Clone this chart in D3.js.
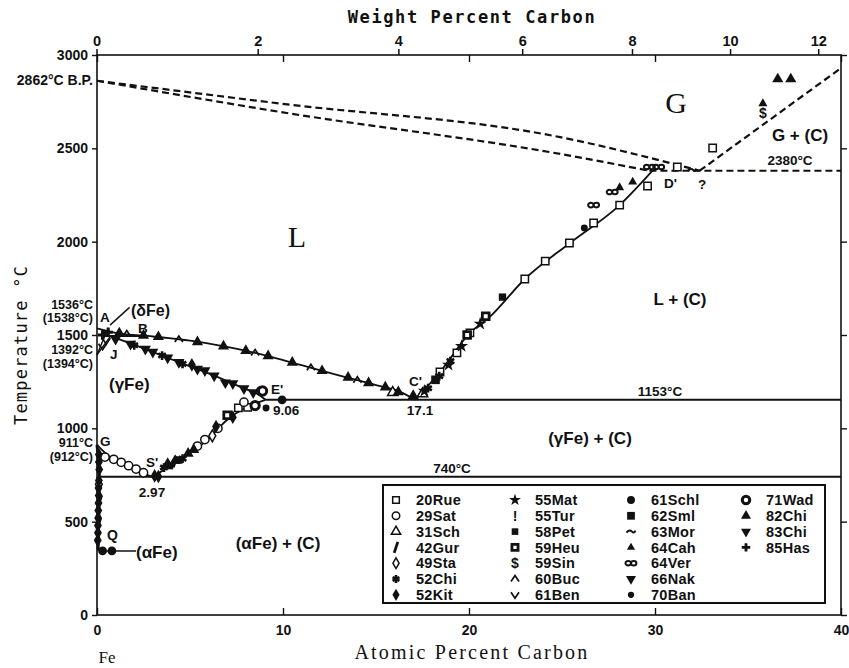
<!DOCTYPE html>
<html>
<head>
<meta charset="utf-8">
<script src="https://cdn.jsdelivr.net/npm/d3@7"></script>
<style>
  body { margin: 0; background: #fff; }
  svg { display: block; }
  text { fill: #111; }
</style>
</head>
<body>
<div id="chart"></div>
<script>
// phase boundaries, [atomic % C, temperature °C]
var liquidus = [[0,1536],[1,1512],[3,1492],[5,1470],[7,1436],[9,1392],[11,1338],[13,1284],[15,1232],[16.3,1195],[17.1,1153]];
var solidus = [[0.3,1510],[2.3,1436],[4.1,1366],[6.2,1286],[7.85,1216],[8.6,1185],[9.06,1153]];
var acm = [[2.97,740],[4.62,841],[5.91,937],[6.99,1045],[8.06,1114],[9.06,1153]];
var a3 = [[0,912],[0.7,847],[1.6,804],[2.3,767],[2.97,740]];
var alphaSolvus = [[0,912],[0.12,740],[0.1,560],[0.06,345]];
var graphiteLiq = [[17.1,1153],[18.44,1302],[20.05,1511],[21.13,1598],[23.0,1800],[25.43,1993],[28.1,2196],[30.0,2395]];
var dewLine = [[0,2862],[9.84,2740],[24.9,2560],[32.4,2380]];
var bubbleLine = [[0,2862],[9.84,2695],[24.9,2470],[29.7,2380]];
var gasGraphite = [[32.4,2380],[40,2930]];
var eutectic = [[9.06,1153],[40,1153]];
var eutectoid = [[0.12,740],[40,740]];
var line2380 = [[29.7,2380],[40,2380]];
var peritectic = [[0.42,1495],[2.4,1495]];
var deltaLines = [[[0,1394],[0.42,1495]],[[0,1394],[0.74,1495]]];

// measured points, one array per source
var rue20 = [[18.44,1302],[19.35,1404],[20.05,1511],[23.0,1800],[24.1,1896],[25.4,1993],[26.7,2100],[28.1,2196],[29.6,2298],[31.2,2400],[33.1,2502],[7.6,1110],[8.1,1112]];
var sat29 = [[0.43,846],[0.9,834],[1.3,818],[1.7,800],[2.1,782],[2.5,762],[5.4,905],[5.8,940],[6.5,1000],[7.9,1140],[8.8,1200]];
var sch31 = [[15.9,1192],[17.5,1185]];
var gur42 = [[0.1,490],[0.15,610],[4.2,820]];
var sta49 = [[0.1,700],[6.2,960]];
var chi52 = [[2.0,1445],[3.5,1390],[4.6,1345],[17.8,1215],[18.4,1280],[19.0,1360],[3.6,790],[4.6,838]];
var kit52 = [[0.1,860],[0.1,820],[0.12,780],[0.1,720],[0.08,680],[0.09,640],[0.08,600],[0.07,560],[0.06,520],[0.05,480],[0.05,440],[0.04,400],[6.4,1010],[7.3,1060],[3.1,745],[3.3,742],[5.1,1340]];
var mat55 = [[17.6,1200],[18.9,1340],[19.6,1440],[20.6,1560]];
var tur55 = [[0.08,650]];
var pet58 = [[21.8,1703],[3.9,800],[4.4,830]];
var heu59 = [[19.9,1500],[20.9,1600],[7.0,1070]];
var sin59 = [[35.8,2690]];
var buc60 = [[1.6,1505],[4.4,1476],[8.5,1404],[11.5,1325],[14.0,1258]];
var ben61 = [[0.5,1470],[0.3,1440]];
var schl61 = [[9.95,1153],[0.3,343],[0.8,343]];
var sml62 = [[18.2,1260]];
var mor63 = [[32.0,2384]];
var cah64 = [[28.8,2320],[28.1,2290],[35.8,2740]];
var ver64 = [[26.7,2196],[27.7,2266],[29.7,2400],[30.2,2400]];
var nak66 = [[5.8,1310],[6.9,1245],[2.6,1425]];
var ban70 = [[9.09,1109],[26.2,2073]];
var wad71 = [[8.9,1200],[8.5,1122]];
var chi82 = [[1.2,1510],[2.5,1497],[3.3,1490],[5.4,1463],[6.8,1440],[8.0,1416],[9.2,1388],[10.5,1353],[12.1,1308],[13.5,1272],[14.6,1243],[15.5,1220],[16.2,1195],[17.0,1175],[36.6,2871],[37.3,2871],[3.8,810],[4.2,826],[4.9,865],[5.2,885]];
var chi83 = [[1.0,1478],[1.8,1452],[3.0,1409],[3.8,1378],[4.4,1354],[5.4,1318],[6.3,1282],[7.3,1240],[7.9,1213],[8.4,1192]];
var has85 = [[0.3,1500],[0.6,1515]];

var weightTicks = [0, 2, 4, 6, 8, 10, 12];
var tempTicks = [0, 500, 1000, 1500, 2000, 2500, 3000];
var atomicTicks = [0, 10, 20, 30, 40];

var legendCols = [
  [["20Rue","sqOpen",rue20],["29Sat","circOpen",sat29],["31Sch","triOpen",sch31],["42Gur","slash",gur42],["49Sta","diaOpen",sta49],["52Chi","asterisk",chi52],["52Kit","diaFill",kit52]],
  [["55Mat","star",mat55],["55Tur","excl",tur55],["58Pet","sqFill",pet58],["59Heu","sqThick",heu59],["59Sin","dollar",sin59],["60Buc","caret",buc60],["61Ben","vee",ben61]],
  [["61Schl","circFill",schl61],["62Sml","sqBig",sml62],["63Mor","tilde",mor63],["64Cah","triSmall",cah64],["64Ver","infin",ver64],["66Nak","triDown",nak66],["70Ban","circSmall",ban70]],
  [["71Wad","circThick",wad71],["82Chi","triFill",chi82],["83Chi","triDown",chi83],["85Has","plus",has85]]
];

var W = 849, H = 668;
var svg = d3.select("#chart").append("svg").attr("width", W).attr("height", H);

var x = d3.scaleLinear().domain([0, 40]).range([97, 841]);
var y = d3.scaleLinear().domain([0, 3000]).range([615, 55]);

// weight % -> atomic %
function wtToAt(w) {
  var c = w / 12.011, fe = (100 - w) / 55.845;
  return 100 * c / (c + fe);
}

var numFont = "Liberation Sans, Arial, sans-serif";

// frame
svg.append("rect").attr("x", x(0)).attr("y", y(3000))
  .attr("width", x(40) - x(0)).attr("height", y(0) - y(3000))
  .attr("fill", "none").attr("stroke", "#111").attr("stroke-width", 1.6);

// bottom axis, atomic %
var bottom = svg.append("g").attr("transform", "translate(0," + y(0) + ")");
bottom.call(d3.axisBottom(x).tickValues(d3.range(0, 41, 1)).tickSize(-3).tickFormat(""));
bottom.call(d3.axisBottom(x).tickValues(atomicTicks).tickSize(-7).tickPadding(10).tickFormat(d3.format("d")));
bottom.select(".domain").remove();

// top axis: atomic minor ticks inside, weight % outside
var topIn = svg.append("g").attr("transform", "translate(0," + y(3000) + ")");
topIn.call(d3.axisTop(x).tickValues(d3.range(0, 41, 1)).tickSize(-3).tickFormat(""));
topIn.call(d3.axisTop(x).tickValues(atomicTicks).tickSize(-7).tickFormat(""));
topIn.select(".domain").remove();
var xw = function(w) { return x(wtToAt(w)); };
var topOut = svg.append("g");
weightTicks.forEach(function(w) {
  topOut.append("line").attr("x1", xw(w)).attr("x2", xw(w)).attr("y1", y(3000)).attr("y2", y(3000) - 6)
    .attr("stroke", "#111").attr("stroke-width", 1.5);
  topOut.append("text").attr("x", xw(w)).attr("y", y(3000) - 9).attr("text-anchor", "middle")
    .attr("font-family", numFont).attr("font-weight", "bold").attr("font-size", 14.5).text(w);
});

// left axis
var left = svg.append("g").attr("transform", "translate(" + x(0) + ",0)");
left.call(d3.axisLeft(y).tickValues(d3.range(0, 3001, 100)).tickSize(-3).tickFormat(""));
left.call(d3.axisLeft(y).tickValues(tempTicks).tickSize(5).tickPadding(4).tickFormat(d3.format("d")));
left.select(".domain").remove();

// right axis
var right = svg.append("g").attr("transform", "translate(" + x(40) + ",0)");
right.call(d3.axisRight(y).tickValues(d3.range(0, 3001, 100)).tickSize(3).tickFormat(""));
right.call(d3.axisRight(y).tickValues(tempTicks).tickSize(6).tickFormat(""));
right.select(".domain").remove();

svg.selectAll(".tick line").attr("stroke", "#111").attr("stroke-width", 1.4);
svg.selectAll(".tick text").attr("font-family", numFont).attr("font-weight", "bold")
  .attr("font-size", 14).attr("fill", "#111");

// axis titles
svg.append("text").attr("x", 472).attr("y", 23).attr("text-anchor", "middle")
  .attr("font-family", "DejaVu Sans Mono, monospace").attr("font-weight", "bold")
  .attr("font-size", 17).attr("letter-spacing", 1.6).text("Weight Percent Carbon");
svg.append("text").attr("x", 472).attr("y", 659).attr("text-anchor", "middle")
  .attr("font-family", "Liberation Serif, serif").attr("font-size", 20)
  .attr("letter-spacing", 2.2).text("Atomic Percent Carbon");
svg.append("text").attr("transform", "translate(27,345) rotate(-90)").attr("text-anchor", "middle")
  .attr("font-family", "DejaVu Sans Mono, monospace").attr("font-size", 17)
  .attr("letter-spacing", 1.2).text("Temperature °C");
svg.append("text").attr("x", 107).attr("y", 663).attr("text-anchor", "middle")
  .attr("font-family", "Liberation Serif, serif").attr("font-size", 17).text("Fe");

// phase boundaries
var line = d3.line().x(function(d) { return x(d[0]); }).y(function(d) { return y(d[1]); });
var curved = d3.line().curve(d3.curveMonotoneX).x(function(d) { return x(d[0]); }).y(function(d) { return y(d[1]); });
var lines = svg.append("g").attr("fill", "none").attr("stroke", "#111");

[liquidus, solidus, acm, a3, graphiteLiq].forEach(function(d) {
  lines.append("path").attr("d", curved(d)).attr("stroke-width", 1.8);
});
[eutectic, eutectoid, peritectic].forEach(function(d) {
  lines.append("path").attr("d", line(d)).attr("stroke-width", 2);
});
lines.append("path").attr("d", d3.line().curve(d3.curveMonotoneY).x(function(d) { return x(d[0]); }).y(function(d) { return y(d[1]); })(alphaSolvus))
  .attr("stroke-width", 3);
deltaLines.forEach(function(d) {
  lines.append("path").attr("d", line(d)).attr("stroke-width", 1.4);
});
[dewLine, bubbleLine].forEach(function(d) {
  lines.append("path").attr("d", curved(d)).attr("stroke-width", 2.2).attr("stroke-dasharray", "7,4");
});
[gasGraphite, line2380].forEach(function(d) {
  lines.append("path").attr("d", line(d)).attr("stroke-width", 2.2).attr("stroke-dasharray", "7,4");
});
// pointer lines
lines.append("path").attr("d", line([[0.3, 343], [2.1, 343]])).attr("stroke-width", 1.6);
lines.append("path").attr("d", line([[0.7, 1553], [1.75, 1648]])).attr("stroke-width", 1.4);

// markers
function drawMark(g, kind, s) {
  var sym = function(t, size) { return d3.symbol().type(t).size(size)(); };
  var k = s || 1.35;
  switch (kind) {
    case "sqOpen": return g.append("path").attr("d", sym(d3.symbolSquare, 40 * k)).attr("fill", "#fff").attr("stroke", "#111").attr("stroke-width", 1.5);
    case "circOpen": return g.append("path").attr("d", sym(d3.symbolCircle, 40 * k)).attr("fill", "#fff").attr("stroke", "#111").attr("stroke-width", 1.5);
    case "triOpen": return g.append("path").attr("d", sym(d3.symbolTriangle, 34 * k)).attr("fill", "#fff").attr("stroke", "#111").attr("stroke-width", 1.5);
    case "diaOpen": return g.append("path").attr("d", sym(d3.symbolDiamond, 30 * k)).attr("fill", "#fff").attr("stroke", "#111").attr("stroke-width", 1.5);
    case "diaFill": return g.append("path").attr("d", sym(d3.symbolDiamond, 40 * k)).attr("fill", "#111");
    case "asterisk": return g.append("path").attr("d", sym(d3.symbolAsterisk, 40 * k)).attr("fill", "none").attr("stroke", "#111").attr("stroke-width", 2.6);
    case "star": return g.append("path").attr("d", sym(d3.symbolStar, 40 * k)).attr("fill", "#111");
    case "sqFill": return g.append("path").attr("d", sym(d3.symbolSquare, 40 * k)).attr("fill", "#111");
    case "sqBig": return g.append("path").attr("d", sym(d3.symbolSquare, 55 * k)).attr("fill", "#111");
    case "sqThick": return g.append("path").attr("d", sym(d3.symbolSquare, 34 * k)).attr("fill", "#fff").attr("stroke", "#111").attr("stroke-width", 2.8);
    case "circFill": return g.append("path").attr("d", sym(d3.symbolCircle, 45 * k)).attr("fill", "#111");
    case "circSmall": return g.append("path").attr("d", sym(d3.symbolCircle, 28 * k)).attr("fill", "#111");
    case "circThick": return g.append("path").attr("d", sym(d3.symbolCircle, 40 * k)).attr("fill", "#fff").attr("stroke", "#111").attr("stroke-width", 3);
    case "triFill": return g.append("path").attr("d", sym(d3.symbolTriangle, 40 * k)).attr("fill", "#111");
    case "triSmall": return g.append("path").attr("d", sym(d3.symbolTriangle, 26 * k)).attr("fill", "#111");
    case "triDown": return g.append("path").attr("d", sym(d3.symbolTriangle, 40 * k)).attr("transform", "rotate(180)").attr("fill", "#111");
    case "plus": return g.append("path").attr("d", sym(d3.symbolCross, 36 * k)).attr("fill", "#111");
    case "slash": return g.append("path").attr("d", "M1.8,-5.5L-1.8,5.5").attr("stroke", "#111").attr("stroke-width", 2.8);
    case "caret": return g.append("path").attr("d", "M-4,2.5L0,-3.5L4,2.5").attr("fill", "none").attr("stroke", "#111").attr("stroke-width", 1.7);
    case "vee": return g.append("path").attr("d", "M-4,-2.5L0,3.5L4,-2.5").attr("fill", "none").attr("stroke", "#111").attr("stroke-width", 1.7);
    case "tilde": return g.append("path").attr("d", "M-4.5,1C-2,-2,0,-1,1,0S3,2,4.5,-1").attr("fill", "none").attr("stroke", "#111").attr("stroke-width", 2);
    case "infin": return g.append("path").attr("d", "M-5.5,0a2.7,2.3 0 1,0 5.4,0a2.7,2.3 0 1,0 -5.4,0M0,0a2.7,2.3 0 1,0 5.4,0a2.7,2.3 0 1,0 -5.4,0").attr("fill", "none").attr("stroke", "#111").attr("stroke-width", 2);
    case "excl": return g.append("text").attr("text-anchor", "middle").attr("dy", "0.36em").attr("font-family", numFont).attr("font-weight", "bold").attr("font-size", 14).text("!");
    case "dollar": return g.append("text").attr("text-anchor", "middle").attr("dy", "0.36em").attr("font-family", numFont).attr("font-weight", "bold").attr("font-size", 14).text("$");
  }
}

var markG = svg.append("g");
legendCols.forEach(function(col) {
  col.forEach(function(entry) {
    entry[2].forEach(function(p) {
      var g = markG.append("g").attr("transform", "translate(" + x(p[0]) + "," + y(p[1]) + ")");
      drawMark(g, entry[1]);
    });
  });
});

// annotations
function label(txt, px, py, opt) {
  opt = opt || {};
  return svg.append("text").attr("x", px).attr("y", py)
    .attr("text-anchor", opt.anchor || "start")
    .attr("font-family", opt.family || numFont)
    .attr("font-weight", opt.weight || "bold")
    .attr("font-size", opt.size || 13.5)
    .text(txt);
}
label("2862°C  B.P.", 93, 85, {anchor: "end", size: 14});
label("1536°C", 93, 309, {anchor: "end", size: 12.5});
label("(1538°C)", 93, 322, {anchor: "end", size: 12.5});
label("1392°C", 93, 354, {anchor: "end", size: 12.5});
label("(1394°C)", 93, 368, {anchor: "end", size: 12.5});
label("911°C", 93, 447, {anchor: "end", size: 12.5});
label("(912°C)", 93, 461, {anchor: "end", size: 12.5});
label("G", 100, 446);
label("A", 100, 322);
label("B", 138, 333);
label("J", 110, 359);
label("(δFe)", 131, 316, {size: 16});
label("(γFe)", 109, 390, {size: 17});
label("L", 297, 247, {anchor: "middle", family: "Liberation Serif, serif", weight: "normal", size: 30});
label("G", 676, 113, {anchor: "middle", family: "Liberation Serif, serif", weight: "normal", size: 30});
label("G + (C)", 800, 141, {anchor: "middle", size: 17});
label("2380°C", 790, 165, {anchor: "middle"});
label("?", 702, 189, {anchor: "middle"});
label("D'", 664, 188);
label("L + (C)", 680, 305, {anchor: "middle", size: 17});
label("C'", 409, 386);
label("17.1", 420, 415, {anchor: "middle"});
label("1153°C", 660, 396, {anchor: "middle"});
label("E'", 271, 394);
label("9.06", 273, 415);
label("(γFe) + (C)", 590, 444, {anchor: "middle", size: 17});
label("740°C", 452, 473, {anchor: "middle"});
label("S'", 146, 467);
label("2.97", 152, 497, {anchor: "middle"});
label("Q", 107, 540, {size: 14});
label("(αFe)", 136, 558, {size: 17});
label("(αFe) + (C)", 278, 549, {anchor: "middle", size: 17});

// legend
var lg = svg.append("g");
lg.append("rect").attr("x", 383).attr("y", 485).attr("width", 442).attr("height", 118)
  .attr("fill", "#fff").attr("stroke", "#111").attr("stroke-width", 2);
var colSym = [396, 515, 631, 746];
legendCols.forEach(function(col, ci) {
  col.forEach(function(entry, ri) {
    var yy = 500 + ri * 15.8;
    var g = lg.append("g").attr("transform", "translate(" + colSym[ci] + "," + yy + ")");
    drawMark(g, entry[1], 1.1);
    lg.append("text").attr("x", colSym[ci] + 20).attr("y", yy).attr("dy", "0.36em")
      .attr("font-family", numFont).attr("font-weight", "bold").attr("font-size", 14.5)
      .attr("letter-spacing", 0.3).text(entry[0]);
  });
});
</script>
</body>
</html>
